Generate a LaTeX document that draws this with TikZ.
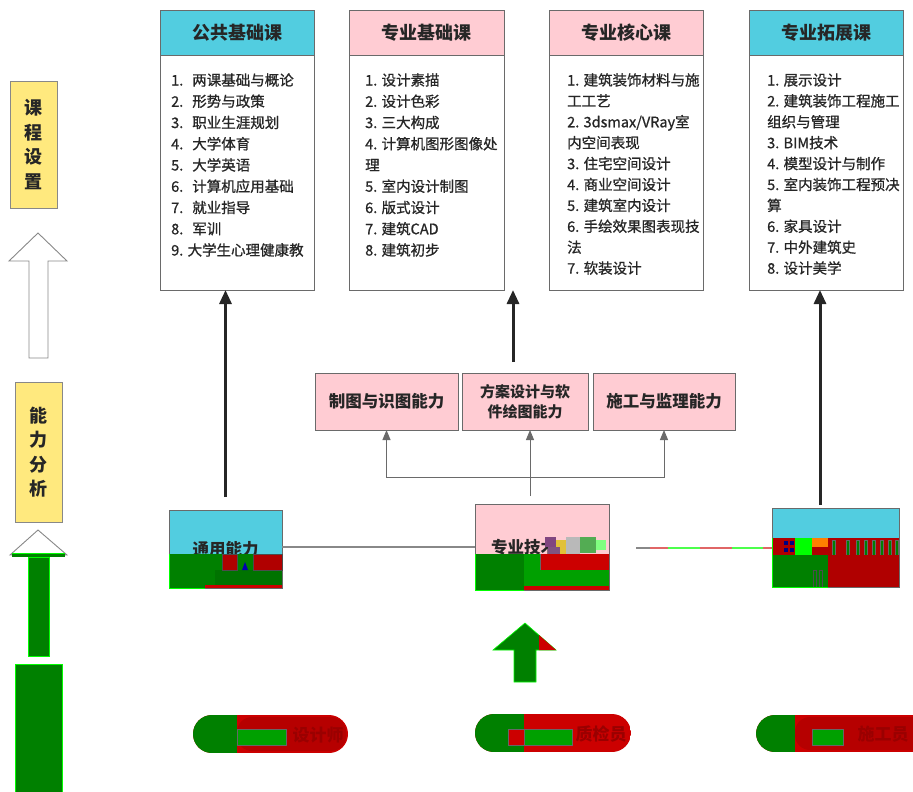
\documentclass[tikz,border=0pt]{standalone}
\usepackage{fontspec}
\setmainfont{Noto Sans CJK SC}
\newfontfamily\itemfont{Noto Sans CJK SC}[FakeBold=0.9]
\usetikzlibrary{arrows.meta}
\definecolor{cy}{HTML}{52CDE0}
\definecolor{pk}{HTML}{FFCCD3}
\definecolor{yl}{HTML}{FFE97E}
\definecolor{bd}{HTML}{6A6A6A}
\definecolor{tx}{HTML}{262626}
\definecolor{gG}{HTML}{008000}
\definecolor{gL}{HTML}{00A000}
\definecolor{gB}{HTML}{00FF00}
\definecolor{rR}{HTML}{CC0000}
\definecolor{rD}{HTML}{B00000}
\definecolor{rT}{HTML}{9A0000}
\begin{document}
\begin{tikzpicture}[x=1pt,y=-1pt,
  box/.style={draw=bd, line width=0.9pt, inner sep=0pt, outer sep=0pt, text=tx},
  hdr/.style={font=\fontsize{18}{20}\selectfont\bfseries},
  item/.style={font=\itemfont\fontsize{14.5}{17}\selectfont, text=tx, anchor=base west, inner sep=0pt},
  abil/.style={box, fill=pk, minimum height=57pt, anchor=north west, align=center},
  side/.style={box, fill=yl, draw=bd!80, align=center, font=\fontsize{18}{24.5}\selectfont\bfseries},
  tk/.style={draw=tx, line width=3pt, -{Triangle[length=14pt,width=12pt]}},
  gl/.style={draw=bd, line width=1pt},
  gla/.style={gl, -{Triangle[length=10pt,width=8pt]}},
  glitch/.style={draw=gB, line width=0.6pt},
  pilltext/.style={text=rT, font=\fontsize{17}{20}\selectfont\bfseries, inner sep=0pt}]
\useasboundingbox (0,0) rectangle (913,792);

% ---------- course boxes ----------
\node[box, fill=cy, hdr, minimum width=154pt, minimum height=45pt, anchor=north west] (h1) at (160,10) {公共基础课};
\node[box, minimum width=154pt, minimum height=235pt, anchor=north] (k1) at (h1.south) {};
\node[box, fill=pk, hdr, minimum width=155pt, minimum height=45pt, anchor=north west] (h2) at (349,10) {专业基础课};
\node[box, minimum width=155pt, minimum height=235pt, anchor=north] (k2) at (h2.south) {};
\node[box, fill=pk, hdr, minimum width=154pt, minimum height=45pt, anchor=north west] (h3) at (549,10) {专业核心课};
\node[box, minimum width=154pt, minimum height=235pt, anchor=north] (k3) at (h3.south) {};
\node[box, fill=cy, hdr, minimum width=154pt, minimum height=45pt, anchor=north west] (h4) at (749,10) {专业拓展课};
\node[box, minimum width=154pt, minimum height=235pt, anchor=north] (k4) at (h4.south) {};

\foreach \t [count=\i] in {1.\hspace{9pt}两课基础与概论,2.\hspace{9pt}形势与政策,3.\hspace{9pt}职业生涯规划,4.\hspace{9pt}大学体育,5.\hspace{9pt}大学英语,6.\hspace{9pt}计算机应用基础,7.\hspace{9pt}就业指导,8.\hspace{9pt}军训,9. 大学生心理健康教}
  \node[item] (a\i) at (171,{85.5+(\i-1)*21.25}) {\t};
\foreach \t [count=\i] in {1. 设计素描,2. 设计色彩,3. 三大构成,4. 计算机图形图像处,理,5. 室内设计制图,6. 版式设计,7. 建筑CAD,8. 建筑初步}
  \node[item] (b\i) at (365,{85.5+(\i-1)*21.25}) {\t};
\foreach \t [count=\i] in {1. 建筑装饰材料与施,工工艺,2. 3dsmax/VRay室,内空间表现,3. 住宅空间设计,4. 商业空间设计,5. 建筑室内设计,6. 手绘效果图表现技,法,7. 软装设计}
  \node[item] (c\i) at (567,{85.5+(\i-1)*20.9}) {\t};
\foreach \t [count=\i] in {1. 展示设计,2. 建筑装饰工程施工,组织与管理,3. BIM技术,4. 模型设计与制作,5. 室内装饰工程预决,算,6. 家具设计,7. 中外建筑史,8. 设计美学}
  \node[item] (d\i) at (767,{85.5+(\i-1)*20.9}) {\t};

% ---------- side labels and arrows ----------
\node[side, minimum width=47pt, minimum height=127pt, anchor=north west] (kc) at (10,81) {课\\程\\设\\置};
\node[side, minimum width=47pt, minimum height=140pt, anchor=north west] (nl) at (15,382) {能\\力\\分\\析};
\draw[draw=bd!80, fill=white, line width=0.9pt] (38,233) -- (67,261) -- (48,261) -- (48,358) -- (29,358) -- (29,261) -- (9,261) -- cycle;
% lower left arrow
\draw[draw=bd!80, fill=white, line width=0.9pt] (38,530) -- (67,555) -- (10,555) -- cycle;
\fill[gG] (12,553) rectangle (65,557);
\draw[glitch] (12,553) -- (65,553);
\draw[glitch, fill=gG] (28,557) rectangle (49,656);
\draw[glitch, fill=gG] (15,664) rectangle (62,795);

% ---------- ability boxes ----------
\node[abil, minimum width=143pt, font=\fontsize{16.5}{20}\selectfont\bfseries] (n1) at (315,373) {制图与识图能力};
\node[abil, minimum width=126pt, font=\fontsize{15}{20}\selectfont\bfseries] (n2) at (462,373) {方案设计与软\\件绘图能力};
\node[abil, minimum width=142pt, font=\fontsize{16.5}{20}\selectfont\bfseries] (n3) at (593,373) {施工与监理能力};

% ---------- lower boxes ----------
\node[box, fill=cy, minimum width=113pt, minimum height=78pt, anchor=north west, font=\fontsize{16.5}{20}\selectfont\bfseries] (ty) at (169,510) {通用能力};
\node[box, fill=pk, minimum width=134pt, minimum height=86pt, anchor=north west] (zy) at (475,504) {};
\node[text=tx, font=\fontsize{16.5}{20}\selectfont\bfseries, anchor=west, inner sep=0pt] (zyt) at (491,547) {专业技术};
\node[box, fill=cy, minimum width=127pt, minimum height=79pt, anchor=north west] (zk) at (772,508) {};

% connectors
\coordinate (m0) at (530,477);
\coordinate (c2) at (513,362);
\coordinate (c4) at (820,505);
\draw[tk, shorten <=13pt] (ty.north) -- (ty.north |- k1.south);
\draw[tk] (c2) -- (c2 |- k2.south);
\draw[tk] (c4) -- (c4 |- k4.south);
\draw[gl, shorten <=8pt] (m0 |- zy.north) -- (m0);
\draw[gla] (m0) -- (m0 |- n2.south);
\draw[gla] (m0) -| (n1.south);
\draw[gla] (m0) -| (n3.south);
\draw[draw=bd!80, line width=1.5pt] (ty.east |- 0,547) -- (zy.west |- 0,547);
\coordinate (e0) at (636,548);
\draw[draw=bd!80, line width=1.5pt] (e0) -- ++(14,0);
\draw[draw=rR!60, line width=1.5pt] (650,548) -- (668,548) (700,548) -- (732,548) (763,548) -- (zk.west |- 0,548);
\draw[draw=gB!70, line width=1.5pt] (668,548) -- (700,548) (732,548) -- (763,548);

% glitch overlay on 通用能力
\fill[gG] (169,554) rectangle (282,588);
\fill[gG!90!black] (215,570) rectangle (282,585);
\draw[fill=rD, draw=black!70, line width=0.5pt] (222,554) rectangle (237,570);
\draw[fill=rD, draw=black!70, line width=0.5pt] (253,554) rectangle (282,570);
\fill[blue!70!black] (242,570) -- (245,562) -- (248,570) -- cycle;
\fill[rR] (205,585) rectangle (282,588);
\draw[gB, line width=0.6pt] (169,554) -- (169,588) -- (205,588);

% glitch overlay on 专业技术
\fill[violet!45!gray] (545,537) rectangle (556,547);
\fill[yellow!50!brown] (556,540) rectangle (566,555);
\fill[gray!55] (566,537) rectangle (580,555);
\fill[green!35!gray] (580,537) rectangle (596,553);
\fill[violet!35!gray] (548,547) rectangle (560,555);
\fill[gB!50] (596,540) rectangle (606,550);
\fill[gG] (475,554) rectangle (609,590);
\fill[gL] (524,554) rectangle (609,586);
\fill[rR] (540,554) rectangle (609,570);
\draw[black!60, line width=0.5pt] (540,570) -- (540,554);
\fill[rR] (524,586) rectangle (609,590);
\draw[gB, line width=0.6pt] (475,554) -- (475,590) -- (524,590);

% glitch overlay on third box
\fill[rD] (772,538) rectangle (899,555);
\fill[gB] (795,538) rectangle (812,555);
\fill[orange] (812,538) rectangle (828,547);
\foreach \xx in {784,790} \foreach \yy in {541,548} \fill[blue!50!black] (\xx,\yy) rectangle ++(4,4);
\foreach \xx in {832,846,856,864,872,880,888,895} \draw[fill=gG, draw=black!60, line width=0.4pt] (\xx,540) rectangle ++(3,15);
\fill[gG] (772,555) rectangle (828,587);
\fill[rD] (828,555) rectangle (899,587);
\foreach \xx in {813,819} \draw[fill=gG, draw=black!70, line width=0.5pt] (\xx,570) rectangle ++(3,17);
\draw[gB, line width=0.6pt] (772,538) -- (772,587) -- (828,587);

% ---------- middle green arrow ----------
\draw[glitch, fill=gG] (525,623) -- (556,650) -- (536,650) -- (536,682) -- (514,682) -- (514,650) -- (493,650) -- cycle;
\fill[rR] (539,635) -- (556,650) -- (539,650) -- cycle;

% ---------- pills ----------
\begin{scope}
  \clip[rounded corners=19pt] (193,715) rectangle (348,753);
  \fill[rR] (193,715) rectangle (348,753);
  \fill[rD!80!rR, rounded corners=15pt] (237,717) rectangle (346,751);
  \fill[gG] (193,715) rectangle (237,753);
\end{scope}
\draw[draw=black!60, fill=gL, line width=0.5pt] (237,729) rectangle (286,745);
\node[pilltext] (p1) at (318,735) {设计师};

\begin{scope}
  \clip[rounded corners=19pt] (475,714) rectangle (631,752);
  \fill[rR] (475,714) rectangle (631,752);
  \fill[gG] (475,714) rectangle (524,752);
\end{scope}
\draw[draw=black!60, fill=rR, line width=0.5pt] (508,729) rectangle (524,745);
\draw[draw=black!60, fill=gL, line width=0.5pt] (524,729) rectangle (572,745);
\node[pilltext] (p2) at (601,734) {质检员};

\begin{scope}
  \clip[rounded corners=19pt] (756,715) rectangle (932,752);
  \fill[rR] (756,715) rectangle (932,752);
  \fill[rD!80!rR, rounded corners=15pt] (795,717) rectangle (930,750);
  \fill[gG] (756,715) rectangle (795,752);
\end{scope}
\draw[draw=black!60, fill=gL, line width=0.5pt] (812,729) rectangle (843,745);
\node[pilltext] (p3) at (883,734) {施工员};
\end{tikzpicture}
\end{document}
